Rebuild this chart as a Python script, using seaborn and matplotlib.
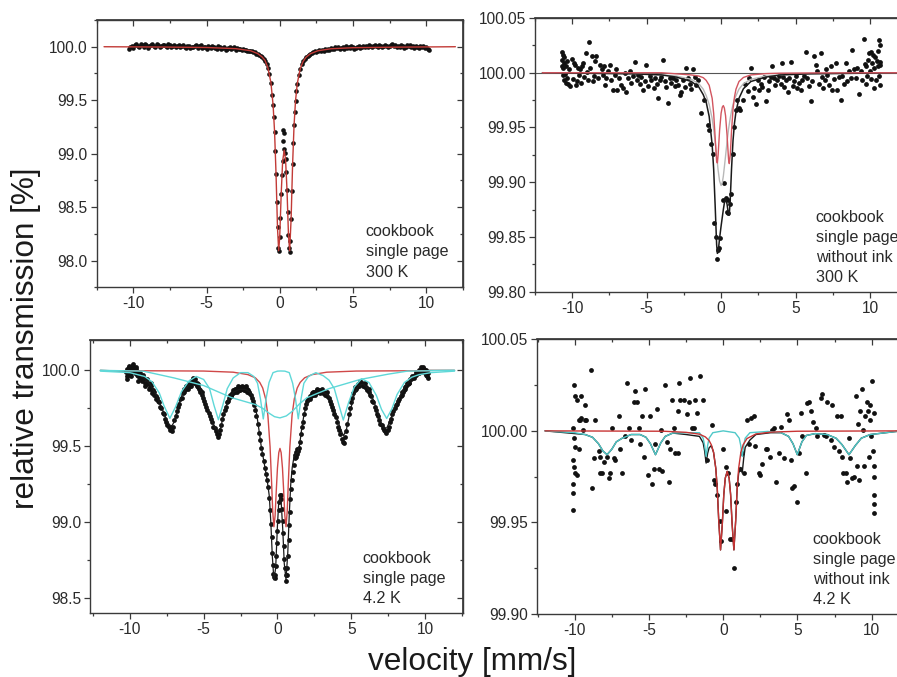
import matplotlib
matplotlib.use('Agg')
import matplotlib.pyplot as plt
from matplotlib.ticker import MultipleLocator, FormatStrFormatter
import seaborn as sns

# ---------------- panel A: cookbook single page, 300 K ----------------
a_fit_v = [-12, -8, -5, -3, -2, -1.5, -1.2, -1.0, -0.8, -0.6, -0.45, -0.35, -0.25, -0.15, -0.07,
           0.0, 0.1, 0.2, 0.305, 0.4, 0.5, 0.6, 0.68, 0.78, 0.88, 0.98, 1.08, 1.2, 1.4, 1.6,
           1.8, 2.1, 2.6, 3.5, 5, 8, 12]
a_fit_t = [100.0, 99.997, 99.993, 99.982, 99.963, 99.936, 99.904, 99.872, 99.800, 99.665, 99.453,
           99.204, 98.808, 98.305, 98.092, 98.217, 98.616, 98.926, 99.033, 98.946, 98.656, 98.237,
           98.092, 98.392, 98.895, 99.265, 99.493, 99.655, 99.794, 99.863, 99.902, 99.935, 99.962,
           99.981, 99.991, 99.996, 100.0]
a_dots = [(-10.3, 99.98), (-10.2, 100.00), (-10.1, 100.01), (-10.0, 99.99), (-9.9, 100.02), (-9.8, 100.03),
          (-9.7, 100.01), (-9.6, 100.00), (-9.5, 100.03), (-9.4, 100.02), (-9.3, 100.00), (-9.2, 100.03),
          (-9.1, 100.02), (-9.0, 99.99), (-8.9, 100.01), (-8.8, 100.02), (-8.7, 100.03), (-8.6, 100.01),
          (-8.5, 100.00), (-8.4, 100.03), (-8.3, 100.02), (-8.2, 100.00), (-8.1, 100.01), (-8.0, 100.02),
          (-7.9, 100.02), (-7.8, 100.01), (-7.7, 100.00), (-7.6, 100.03), (-7.5, 100.02), (-7.4, 100.00),
          (-7.3, 100.01), (-7.2, 100.02), (-7.1, 100.00), (-7.0, 100.01), (-6.9, 100.02), (-6.8, 100.00),
          (-6.7, 100.01), (-6.6, 100.02), (-6.5, 100.00), (-6.4, 99.99), (-6.3, 100.01), (-6.2, 100.01),
          (-6.1, 99.99), (-6.0, 100.00), (-5.9, 100.00), (-5.8, 100.01), (-5.7, 100.02), (-5.6, 99.99),
          (-5.5, 100.01), (-5.4, 100.02), (-5.3, 99.99), (-5.2, 100.00), (-5.1, 100.00), (-5.0, 99.98),
          (-4.9, 100.01), (-4.8, 100.00), (-4.7, 99.99), (-4.6, 100.01), (-4.5, 100.00), (-4.4, 99.99),
          (-4.3, 99.98), (-4.2, 100.01), (-4.1, 100.00), (-4.0, 99.98), (-3.9, 99.99), (-3.8, 100.00),
          (-3.7, 99.97), (-3.6, 99.98), (-3.5, 99.99), (-3.4, 100.00), (-3.3, 99.98), (-3.2, 99.99),
          (-3.1, 100.00), (-3.0, 99.97), (-2.9, 99.99), (-2.8, 99.98), (-2.7, 99.98), (-2.6, 99.97),
          (-2.5, 99.98), (-2.4, 99.97), (-2.3, 99.97), (-2.2, 99.96), (-2.1, 99.96), (-2.0, 99.96),
          (-1.9, 99.96), (-1.8, 99.95), (-1.7, 99.95), (-1.6, 99.93),
          (-1.5, 99.935), (-1.4, 99.925), (-1.3, 99.915), (-1.2, 99.905), (-1.1, 99.885), (-1.0, 99.87),
          (-0.9, 99.84), (-0.8, 99.80), (-0.7, 99.745), (-0.6, 99.665), (-0.5, 99.545), (-0.45, 99.455),
          (-0.4, 99.345), (-0.35, 99.205), (-0.3, 99.025), (-0.25, 98.81), (-0.2, 98.55), (-0.15, 98.31),
          (-0.1, 98.12), (-0.07, 98.09), (0.0, 98.22), (0.05, 98.40), (0.1, 98.62), (0.15, 98.80),
          (0.2, 98.93), (0.22, 99.12), (0.24, 99.22), (0.27, 99.19), (0.31, 99.04), (0.35, 99.01),
          (0.4, 98.95), (0.45, 98.83), (0.5, 98.66), (0.55, 98.45), (0.6, 98.24), (0.64, 98.12),
          (0.68, 98.08), (0.73, 98.18), (0.78, 98.39), (0.83, 98.65), (0.88, 98.90), (0.93, 99.10),
          (0.98, 99.27), (1.03, 99.39), (1.08, 99.49), (1.14, 99.585), (1.2, 99.655), (1.3, 99.74),
          (1.4, 99.795), (1.5, 99.835), (1.6, 99.865), (1.7, 99.885), (1.8, 99.90), (1.9, 99.915),
          (2.0, 99.925),
          (2.1, 99.93), (2.2, 99.94), (2.3, 99.95), (2.4, 99.96), (2.5, 99.95), (2.6, 99.96), (2.7, 99.97),
          (2.8, 99.96), (2.9, 99.97), (3.0, 99.96), (3.1, 99.98), (3.2, 99.97), (3.3, 99.98), (3.4, 99.97),
          (3.5, 99.99), (3.6, 99.98), (3.7, 99.98), (3.8, 100.00), (3.9, 99.99), (4.0, 100.00), (4.1, 99.98),
          (4.2, 99.99), (4.3, 100.00), (4.4, 99.98), (4.5, 100.01), (4.6, 99.99), (4.7, 100.00), (4.8, 99.99),
          (4.9, 100.01), (5.0, 100.00), (5.1, 99.98), (5.2, 99.99), (5.3, 100.00), (5.4, 100.01), (5.5, 99.99),
          (5.6, 100.00), (5.7, 100.01), (5.8, 100.00), (5.9, 100.01), (6.0, 100.00), (6.1, 100.02),
          (6.2, 100.01), (6.3, 100.00), (6.4, 100.01), (6.5, 100.02), (6.6, 100.01), (6.7, 100.00),
          (6.8, 100.02), (6.9, 100.01), (7.0, 100.00), (7.1, 100.01), (7.2, 100.02), (7.3, 100.01),
          (7.4, 100.00), (7.5, 100.01), (7.6, 100.02), (7.7, 100.03), (7.8, 100.01), (7.9, 100.02),
          (8.0, 100.00), (8.1, 100.01), (8.2, 100.00), (8.3, 100.02), (8.4, 100.01), (8.5, 99.99),
          (8.6, 100.00), (8.7, 100.02), (8.8, 100.01), (8.9, 100.02), (9.0, 100.00), (9.1, 100.01),
          (9.2, 99.99), (9.3, 100.01), (9.4, 100.00), (9.5, 99.99), (9.6, 100.01), (9.7, 100.00),
          (9.8, 100.01), (9.9, 99.99), (10.0, 100.00), (10.1, 99.98), (10.2, 99.97)]

# ---------------- panel B: without ink, 300 K ----------------
b_fit_v = [-12, -6, -4, -3, -2, -1.5, -1.2, -1.0, -0.8, -0.6, -0.5, -0.4, -0.3, -0.25, -0.2, -0.1,
           0.0, 0.08, 0.15, 0.22, 0.3, 0.4, 0.5, 0.55, 0.62, 0.7, 0.8, 0.9, 1.0, 1.2, 1.5, 2, 3, 4, 6, 12]
b_red_t = [100.0, 100.0, 100.0, 99.999, 99.998, 99.997, 99.9955, 99.993, 99.9885, 99.9766, 99.963,
           99.941, 99.919, 99.9176, 99.925, 99.9476, 99.963, 99.9686, 99.970, 99.9677, 99.9607,
           99.943, 99.921, 99.917, 99.926, 99.9465, 99.9667, 99.978, 99.985, 99.992, 99.9957,
           99.998, 99.9992, 99.9996, 99.9998, 100.0]
b_gray_t = [100.0, 99.9993, 99.998, 99.997, 99.994, 99.990, 99.985, 99.979, 99.971, 99.958, 99.9485,
            99.937, 99.924, 99.9176, 99.911, 99.901, 99.897, 99.8996, 99.9055, 99.914, 99.924, 99.937,
            99.9485, 99.953, 99.959, 99.965, 99.971, 99.976, 99.979, 99.985, 99.990, 99.994, 99.997,
            99.998, 99.9993, 100.0]
b_total_t = [100.0, 99.999, 99.998, 99.996, 99.992, 99.987, 99.980, 99.973, 99.960, 99.934, 99.912,
             99.879, 99.843, 99.835, 99.836, 99.849, 99.860, 99.868, 99.875, 99.881, 99.885, 99.880,
             99.870, 99.870, 99.886, 99.912, 99.938, 99.954, 99.9645, 99.9766, 99.9854, 99.992,
             99.996, 99.998, 99.999, 100.0]
b_dots = [(-10.70, 100.006), (-10.68, 100.019), (-10.66, 100.012), (-10.64, 99.998), (-10.62, 100.016),
          (-10.60, 100.004), (-10.58, 99.993), (-10.56, 100.009), (-10.52, 100.014), (-10.49, 99.999),
          (-10.45, 100.006), (-10.41, 99.991), (-10.38, 100.011), (-10.33, 99.995), (-10.27, 99.990),
          (-10.20, 100.003), (-10.12, 99.988), (-10.04, 100.013), (-9.96, 99.994), (-9.90, 100.009),
          (-9.82, 100.007), (-9.75, 99.989), (-9.70, 99.992), (-9.62, 100.004), (-9.55, 99.998),
          (-9.48, 100.003), (-9.40, 99.991), (-9.32, 100.006), (-9.26, 100.009), (-9.18, 99.996),
          (-9.08, 100.018), (-9.00, 100.001), (-8.93, 99.993), (-8.86, 100.028), (-8.78, 100.004),
          (-8.70, 100.015), (-8.60, 99.992), (-8.52, 99.997), (-8.45, 100.011), (-8.37, 100.015),
          (-8.28, 99.995), (-8.15, 100.007), (-8.03, 100.003), (-7.95, 99.998), (-7.88, 100.006),
          (-7.81, 99.989), (-7.70, 99.995), (-7.60, 100.002), (-7.48, 100.007), (-7.37, 99.993),
          (-7.26, 99.984), (-7.15, 99.998), (-7.03, 100.003), (-6.98, 99.984), (-6.85, 99.995),
          (-6.72, 99.989), (-6.59, 99.986), (-6.48, 100.000), (-6.36, 99.982), (-6.25, 99.995),
          (-6.14, 100.002), (-6.02, 99.991), (-5.90, 99.997), (-5.80, 100.010), (-5.68, 99.993),
          (-5.58, 99.998), (-5.47, 99.990), (-5.36, 99.996), (-5.25, 99.984), (-5.13, 99.992),
          (-5.02, 100.007), (-4.90, 99.988), (-4.80, 99.997), (-4.68, 99.993), (-4.53, 99.986),
          (-4.42, 99.995), (-4.32, 99.990), (-4.24, 99.977), (-4.12, 99.993), (-4.02, 99.996),
          (-3.91, 100.012), (-3.80, 99.992), (-3.68, 99.987), (-3.57, 99.972), (-3.45, 99.995),
          (-3.35, 99.991), (-3.24, 99.995), (-3.12, 99.988), (-3.00, 99.993), (-2.90, 99.989),
          (-2.79, 99.980), (-2.68, 99.982), (-2.56, 99.993), (-2.45, 99.987), (-2.34, 100.004),
          (-2.22, 99.995), (-2.10, 99.990), (-2.00, 99.985), (-1.90, 100.003), (-1.78, 99.996),
          (-1.67, 99.989), (-1.55, 99.993),
          (-1.34, 99.963), (-1.15, 99.975), (-0.90, 99.952), (-0.83, 99.948), (-0.70, 99.935),
          (-0.56, 99.926), (-0.45, 99.863), (-0.35, 99.850), (-0.27, 99.830), (-0.22, 99.838),
          (-0.16, 99.840), (-0.05, 99.849), (0.11, 99.884), (0.22, 99.899), (0.30, 99.886),
          (0.38, 99.873), (0.45, 99.872), (0.49, 99.884), (0.58, 99.880), (0.67, 99.889),
          (0.78, 99.926), (0.89, 99.950), (1.00, 99.966), (1.10, 99.975), (1.20, 99.968),
          (1.30, 99.966), (1.45, 99.975),
          (1.60, 99.990), (1.78, 99.983), (1.85, 99.995), (2.00, 100.004), (2.12, 99.978),
          (2.23, 99.986), (2.34, 99.971), (2.45, 99.993), (2.56, 99.984), (2.67, 99.990),
          (2.78, 99.987), (2.90, 99.996), (3.01, 99.974), (3.12, 99.984), (3.24, 99.992),
          (3.35, 99.996), (3.45, 100.006), (3.54, 99.995), (3.63, 99.989), (3.75, 99.993),
          (3.90, 99.997), (4.00, 99.990), (4.08, 100.009), (4.16, 99.996), (4.24, 99.987),
          (4.35, 99.993), (4.46, 99.982), (4.58, 99.995), (4.69, 100.010), (4.80, 99.988),
          (4.91, 99.992), (5.02, 99.997), (5.13, 99.986), (5.24, 99.991), (5.35, 99.984),
          (5.46, 99.993), (5.58, 99.997), (5.69, 100.019), (5.80, 99.995), (5.91, 99.988),
          (6.02, 99.974), (6.13, 99.992), (6.25, 100.015), (6.36, 100.007), (6.47, 100.002),
          (6.58, 99.990), (6.69, 100.018), (6.77, 99.996), (6.85, 99.986), (6.95, 99.993),
          (7.05, 100.003), (7.14, 99.998), (7.25, 99.989), (7.36, 100.006), (7.47, 99.984),
          (7.58, 99.994), (7.70, 100.009), (7.80, 99.984), (7.92, 99.996), (8.03, 99.975),
          (8.14, 99.997), (8.25, 99.990), (8.37, 100.009), (8.47, 99.992), (8.58, 100.002),
          (8.70, 99.995), (8.81, 100.021), (8.92, 100.003), (9.04, 99.995), (9.15, 100.004),
          (9.26, 99.981), (9.37, 100.002), (9.48, 99.993), (9.59, 100.031), (9.65, 100.008),
          (9.71, 100.006), (9.76, 99.990), (9.81, 99.997), (9.87, 100.012), (9.93, 100.018),
          (9.98, 100.002), (10.04, 100.019), (10.08, 99.994), (10.15, 100.009), (10.20, 100.016),
          (10.26, 99.986), (10.30, 100.004), (10.37, 100.014), (10.42, 99.993), (10.48, 100.011),
          (10.52, 100.006), (10.56, 100.020), (10.60, 100.030), (10.62, 99.997), (10.64, 100.025),
          (10.66, 100.010), (10.68, 99.989), (10.70, 100.007)]

# ---------------- panel C: cookbook single page, 4.2 K ----------------
c_total_v = [-12, -10.25, -9.8, -9.3, -9.0, -8.6, -8.2, -7.8, -7.5, -7.3, -7.15, -7.0, -6.8, -6.5,
             -6.2, -5.9, -5.6, -5.3, -5.0, -4.7, -4.4, -4.15, -4.0, -3.85, -3.6, -3.3, -3.0, -2.6,
             -2.2, -1.9, -1.7, -1.5, -1.3, -1.1, -0.9, -0.7, -0.55, -0.45, -0.35, -0.24, -0.12, 0.0,
             0.08, 0.17, 0.26, 0.36, 0.46, 0.58, 0.7, 0.8, 0.9, 1.0, 1.12, 1.25, 1.38, 1.5, 1.65,
             1.8, 2.0, 2.3, 2.7, 3.1, 3.4, 3.7, 4.0, 4.25, 4.46, 4.65, 4.9, 5.2, 5.5, 5.8, 6.1, 6.4,
             6.7, 7.0, 7.2, 7.4, 7.6, 7.9, 8.2, 8.6, 9.0, 9.5, 10.25, 12]
c_total_t = [100.0, 99.995, 99.985, 99.965, 99.945, 99.905, 99.835, 99.745, 99.67, 99.64, 99.635,
             99.66, 99.73, 99.83, 99.88, 99.915, 99.92, 99.895, 99.82, 99.74, 99.66, 99.61, 99.60,
             99.62, 99.73, 99.81, 99.855, 99.875, 99.875, 99.86, 99.83, 99.77, 99.64, 99.50, 99.39,
             99.28, 99.17, 99.00, 98.78, 98.62, 98.70, 98.98, 99.12, 99.17, 99.12, 98.95, 98.73,
             98.62, 98.80, 99.05, 99.25, 99.36, 99.43, 99.45, 99.46, 99.51, 99.62, 99.71, 99.78,
             99.83, 99.855, 99.855, 99.84, 99.79, 99.70, 99.62, 99.57, 99.60, 99.72, 99.84, 99.90,
             99.91, 99.885, 99.83, 99.75, 99.66, 99.62, 99.62, 99.66, 99.74, 99.81, 99.885, 99.935,
             99.975, 100.0, 100.0]
c_red_v = [-10.3, -5, -3, -2, -1.5, -1.2, -1.0, -0.8, -0.65, -0.5, -0.4, -0.32, -0.24, -0.16, -0.08,
           0.0, 0.09, 0.17, 0.25, 0.34, 0.42, 0.5, 0.58, 0.66, 0.74, 0.84, 0.99, 1.14, 1.34, 1.54,
           1.84, 2.34, 3.34, 5.34, 10.3]
c_red_t = [99.998, 99.9955, 99.988, 99.972, 99.951, 99.921, 99.884, 99.812, 99.705, 99.496, 99.269,
           99.071, 98.970, 99.042, 99.208, 99.357, 99.458, 99.486, 99.458, 99.357, 99.208, 99.042,
           98.970, 99.071, 99.269, 99.496, 99.705, 99.812, 99.884, 99.921, 99.951, 99.972, 99.988,
           99.9955, 99.998]
c_sext_v = [-12, -10, -9, -8.5, -8, -7.7, -7.29, -6.9, -6.5, -6.0, -5.5, -5.0, -4.6, -4.3, -4.0, -3.7,
            -3.4, -3.0, -2.5, -2.0, -1.6, -1.35, -1.15, -0.96, -0.77, -0.57, -0.3, 0.0, 0.22, 0.5, 0.8,
            1.03, 1.22, 1.41, 1.6, 1.79, 2.1, 2.6, 3.1, 3.5, 3.85, 4.15, 4.46, 4.8, 5.2, 5.7, 6.2, 6.7,
            7.05, 7.4, 7.75, 8.1, 8.6, 9.1, 9.6, 10.4, 12]
c_sext_t = [99.995, 99.985, 99.96, 99.925, 99.85, 99.77, 99.684, 99.76, 99.86, 99.93, 99.96, 99.94,
            99.88, 99.77, 99.675, 99.772, 99.88, 99.95, 99.985, 99.985, 99.96, 99.915, 99.811, 99.680,
            99.813, 99.92, 99.985, 99.995, 99.996, 99.995, 99.985, 99.915, 99.813, 99.681, 99.813,
            99.915, 99.96, 99.985, 99.965, 99.935, 99.88, 99.776, 99.673, 99.782, 99.89, 99.945,
            99.92, 99.835, 99.743, 99.683, 99.746, 99.84, 99.92, 99.955, 99.972, 99.985, 99.995]
c_broad_v = [-12, -9.1, -7, -5, -3.1, -1.5, -1.0, -0.6, -0.2, 0.17, 0.6, 1.0, 1.5, 2.0, 3.5, 5.6, 7.5,
             8.8, 12]
c_broad_t = [100.0, 99.995, 99.95, 99.90, 99.82, 99.775, 99.75, 99.72, 99.695, 99.687, 99.70, 99.73,
             99.78, 99.82, 99.88, 99.94, 99.975, 99.995, 100.0]
c_dots = [(-10.25, 99.99), (-10.22, 99.96), (-10.18, 100.01), (-10.12, 99.97), (-10.08, 100.02),
          (-10.02, 99.98), (-9.96, 100.01), (-9.9, 99.99), (-9.84, 100.03), (-9.78, 100.0),
          (-9.72, 100.02), (-9.66, 99.98), (-9.6, 100.01), (-9.54, 99.97), (-9.48, 99.99),
          (-9.42, 99.96), (-9.36, 99.98), (-9.3, 99.95), (-9.22, 99.96), (-9.14, 99.94), (-9.06, 99.95),
          (-8.98, 99.92), (-8.9, 99.94), (-8.82, 99.91), (-8.74, 99.92), (-8.66, 99.89), (-8.58, 99.90),
          (-8.5, 99.87), (-8.42, 99.87), (-8.34, 99.84), (-8.26, 99.83), (-8.18, 99.82), (-8.1, 99.80),
          (-8.02, 99.79), (-7.94, 99.76), (-7.86, 99.75), (-7.78, 99.72), (-7.7, 99.71), (-7.62, 99.68),
          (-7.54, 99.66), (-7.46, 99.64), (-7.38, 99.63), (-7.3, 99.61), (-7.22, 99.62), (-7.14, 99.60),
          (-7.06, 99.63), (-6.98, 99.67), (-6.9, 99.70), (-6.82, 99.73), (-6.74, 99.76), (-6.66, 99.78),
          (-6.58, 99.81), (-6.5, 99.82), (-6.42, 99.85), (-6.34, 99.86), (-6.26, 99.88), (-6.18, 99.88),
          (-6.1, 99.90), (-6.02, 99.91), (-5.94, 99.90), (-5.86, 99.93), (-5.78, 99.92), (-5.7, 99.94),
          (-5.62, 99.92), (-5.54, 99.91), (-5.46, 99.92), (-5.38, 99.89), (-5.3, 99.88), (-5.22, 99.86),
          (-5.14, 99.84), (-5.06, 99.82), (-4.98, 99.80), (-4.9, 99.78), (-4.82, 99.76), (-4.74, 99.74),
          (-4.66, 99.72), (-4.58, 99.70), (-4.5, 99.68), (-4.42, 99.66), (-4.34, 99.63), (-4.26, 99.62),
          (-4.18, 99.60), (-4.1, 99.58), (-4.02, 99.56), (-3.94, 99.58), (-3.86, 99.61), (-3.8, 99.64),
          (-3.74, 99.68), (-3.66, 99.71), (-3.58, 99.74), (-3.5, 99.76), (-3.42, 99.79), (-3.34, 99.80),
          (-3.26, 99.82), (-3.18, 99.83), (-3.1, 99.85), (-3.02, 99.85), (-2.94, 99.87), (-2.86, 99.86),
          (-2.78, 99.88), (-2.7, 99.88), (-2.62, 99.87), (-2.54, 99.89), (-2.46, 99.88), (-2.38, 99.88),
          (-2.3, 99.89), (-2.22, 99.87), (-2.14, 99.88), (-2.06, 99.86), (-1.98, 99.87), (-1.9, 99.86),
          (-1.82, 99.84), (-1.74, 99.82), (-1.66, 99.80), (-1.58, 99.77), (-1.5, 99.74), (-1.42, 99.70),
          (-1.34, 99.65), (-1.26, 99.59), (-1.18, 99.54), (-1.1, 99.49), (-1.02, 99.45), (-0.94, 99.40),
          (-0.86, 99.36), (-0.78, 99.32), (-0.7, 99.28), (-0.63, 99.23), (-0.56, 99.16), (-0.5, 99.08),
          (-0.45, 98.99), (-0.4, 98.90), (-0.36, 98.80), (-0.32, 98.72), (-0.28, 98.66), (-0.24, 98.64),
          (-0.2, 98.63), (-0.16, 98.65), (-0.12, 98.71), (-0.08, 98.78), (-0.04, 98.86), (0.0, 98.94),
          (0.04, 99.01), (0.08, 99.08), (0.12, 99.13), (0.17, 99.18), (0.22, 99.18), (0.27, 99.15),
          (0.31, 99.09), (0.35, 99.01), (0.39, 98.93), (0.43, 98.84), (0.47, 98.76), (0.51, 98.70),
          (0.55, 98.65), (0.59, 98.61), (0.63, 98.65), (0.67, 98.70), (0.71, 98.78), (0.75, 98.88),
          (0.79, 98.98), (0.83, 99.07), (0.87, 99.15), (0.92, 99.22), (0.98, 99.28), (1.04, 99.33),
          (1.1, 99.38), (1.16, 99.42), (1.22, 99.44), (1.28, 99.43), (1.34, 99.45), (1.4, 99.47),
          (1.46, 99.49), (1.52, 99.53), (1.58, 99.58), (1.64, 99.63), (1.7, 99.66), (1.78, 99.71),
          (1.86, 99.75), (1.94, 99.78), (2.02, 99.80), (2.1, 99.81), (2.18, 99.83), (2.26, 99.83),
          (2.34, 99.85), (2.42, 99.84), (2.5, 99.86), (2.58, 99.85), (2.66, 99.87), (2.74, 99.86),
          (2.82, 99.87), (2.9, 99.86), (2.98, 99.87), (3.06, 99.85), (3.14, 99.86), (3.22, 99.84),
          (3.3, 99.85), (3.38, 99.83), (3.46, 99.82), (3.54, 99.80), (3.62, 99.78), (3.7, 99.76),
          (3.78, 99.74), (3.86, 99.71), (3.94, 99.69), (4.02, 99.66), (4.1, 99.63), (4.18, 99.61),
          (4.26, 99.58), (4.34, 99.55), (4.42, 99.53), (4.5, 99.52), (4.58, 99.56), (4.66, 99.60),
          (4.74, 99.65), (4.82, 99.71), (4.9, 99.75), (4.98, 99.79), (5.06, 99.82), (5.14, 99.85),
          (5.22, 99.87), (5.3, 99.88), (5.38, 99.90), (5.46, 99.91), (5.54, 99.90), (5.62, 99.92),
          (5.7, 99.91), (5.78, 99.90), (5.86, 99.91), (5.94, 99.89), (6.02, 99.89), (6.1, 99.87),
          (6.18, 99.86), (6.26, 99.84), (6.34, 99.83), (6.42, 99.80), (6.5, 99.79), (6.58, 99.76),
          (6.66, 99.74), (6.74, 99.71), (6.82, 99.70), (6.9, 99.67), (6.98, 99.65), (7.06, 99.64),
          (7.14, 99.62), (7.22, 99.61), (7.3, 99.60), (7.38, 99.59), (7.46, 99.61), (7.54, 99.63),
          (7.62, 99.66), (7.7, 99.68), (7.78, 99.71), (7.86, 99.73), (7.94, 99.75), (8.02, 99.77),
          (8.1, 99.78), (8.18, 99.80), (8.26, 99.81), (8.34, 99.83), (8.42, 99.84), (8.5, 99.86),
          (8.58, 99.87), (8.66, 99.89), (8.74, 99.90), (8.82, 99.91), (8.9, 99.92), (8.98, 99.94),
          (9.06, 99.94), (9.14, 99.95), (9.22, 99.96), (9.3, 99.97), (9.38, 99.97), (9.46, 99.98),
          (9.54, 99.99), (9.62, 100.0), (9.7, 99.99), (9.78, 100.01), (9.86, 100.02), (9.94, 100.0),
          (10.02, 99.98), (10.08, 99.97), (10.14, 99.96), (10.2, 99.98),
          # second sweep, scattered around the humps
          (-10.16, 99.94), (-10.04, 100.03), (-9.92, 99.96), (-9.8, 100.04), (-9.68, 100.00),
          (-9.56, 100.02), (-9.44, 99.93), (-9.32, 99.98), (-9.2, 99.93), (-9.08, 99.97),
          (-8.96, 99.90), (-8.84, 99.94), (-8.72, 99.88), (-8.6, 99.92), (-8.48, 99.85),
          (-8.36, 99.86), (-8.24, 99.81), (-6.32, 99.88), (-6.2, 99.90), (-6.08, 99.88),
          (-5.96, 99.92), (-5.84, 99.90), (-5.72, 99.95), (-5.6, 99.94), (-5.48, 99.90),
          (-5.36, 99.91), (-5.24, 99.87), (-5.12, 99.86), (-3.24, 99.84), (-3.12, 99.83),
          (-3.0, 99.87), (-2.88, 99.88), (-2.76, 99.86), (-2.64, 99.90), (-2.52, 99.87),
          (-2.4, 99.90), (-2.28, 99.87), (-2.16, 99.90), (-2.04, 99.88), (-1.92, 99.85),
          (1.32, 99.48), (1.26, 99.46), (2.22, 99.81), (2.38, 99.86), (2.54, 99.84), (2.7, 99.88),
          (2.86, 99.85), (3.02, 99.88), (3.18, 99.85), (3.34, 99.86), (5.26, 99.89), (5.42, 99.89),
          (5.58, 99.93), (5.74, 99.92), (5.9, 99.92), (6.06, 99.88), (6.22, 99.88), (8.46, 99.86),
          (8.62, 99.88), (8.78, 99.92), (8.94, 99.92), (9.1, 99.96), (9.26, 99.95), (9.42, 99.99),
          (9.58, 99.98), (9.74, 100.02), (9.9, 100.01), (10.06, 100.0), (10.18, 99.95)]

# ---------------- panel D: without ink, 4.2 K ----------------
d_red_v = [-12, -4, -2.5, -1.6, -1.2, -0.95, -0.8, -0.65, -0.5, -0.4, -0.3, -0.18, -0.06, 0.04, 0.14,
           0.27, 0.4, 0.5, 0.6, 0.72, 0.84, 0.94, 1.04, 1.19, 1.34, 1.6, 2.2, 3.2, 5, 12]
d_red_t = [100.0, 99.9998, 99.9992, 99.9982, 99.9967, 99.9947, 99.9924, 99.9883, 99.9796, 99.9685,
           99.9509, 99.935, 99.9492, 99.9652, 99.9742, 99.9779, 99.9742, 99.9652, 99.9492, 99.935,
           99.9509, 99.9685, 99.9796, 99.9883, 99.9924, 99.9958, 99.9983, 99.9993, 99.9998, 100.0]
d_sext_v = [-12, -10, -9.3, -8.8, -8.4, -8.1, -7.82, -7.5, -7.2, -6.8, -6.2, -5.6, -5.2, -4.9, -4.56,
            -4.2, -3.9, -3.4, -2.5, -1.6, -1.35, -1.25, -1.15, -1.05, -0.95, -0.7, 0.0, 0.8, 1.08,
            1.18, 1.28, 1.38, 1.48, 1.8, 3.0, 3.9, 4.4, 4.7, 4.99, 5.3, 5.6, 6.2, 7.0, 7.6, 8.0,
            8.47, 8.9, 9.3, 9.9, 12]
d_sext_t = [100.0, 99.999, 99.998, 99.9965, 99.993, 99.989, 99.987, 99.990, 99.994, 99.996, 99.998,
            99.998, 99.9965, 99.993, 99.987, 99.9935, 99.997, 99.9988, 99.999, 99.999, 99.996,
            99.992, 99.986, 99.992, 99.996, 99.999, 100.0, 99.999, 99.996, 99.992, 99.986, 99.992,
            99.996, 99.999, 99.9997, 99.999, 99.997, 99.993, 99.987, 99.994, 99.9975, 99.9985,
            99.998, 99.996, 99.9925, 99.987, 99.992, 99.996, 99.998, 100.0]
d_total_v = [-12, -9.3, -8.8, -8.4, -8.1, -7.82, -7.5, -7.2, -6.8, -6.2, -5.6, -5.2, -4.9, -4.56, -4.2,
             -3.9, -3.4, -2.5, -1.6, -1.35, -1.25, -1.15, -1.05, -0.95, -0.8, -0.65, -0.5, -0.4, -0.3,
             -0.18, -0.06, 0.04, 0.14, 0.27, 0.4, 0.5, 0.6, 0.72, 0.84, 0.94, 1.04, 1.18, 1.28, 1.38,
             1.48, 1.8, 2.2, 3.2, 3.9, 4.4, 4.7, 4.99, 5.3, 5.6, 6.2, 7.0, 7.6, 8.0, 8.47, 8.9, 9.3,
             9.9, 12]
d_total_t = [100.0, 99.998, 99.9965, 99.993, 99.989, 99.987, 99.990, 99.994, 99.996, 99.998, 99.998,
             99.9965, 99.993, 99.987, 99.9935, 99.997, 99.9988, 99.998, 99.997, 99.9935, 99.989,
             99.9824, 99.9877, 99.9907, 99.992, 99.9883, 99.9796, 99.9685, 99.9509, 99.935, 99.9492,
             99.9652, 99.9742, 99.9779, 99.9742, 99.9652, 99.9492, 99.935, 99.9509, 99.9685,
             99.9768, 99.980, 99.977, 99.985, 99.991, 99.995, 99.998, 99.999, 99.999, 99.997,
             99.993, 99.987, 99.994, 99.9975, 99.9985, 99.998, 99.996, 99.9925, 99.987, 99.992,
             99.996, 99.998, 100.0]
d_dots = [(-10.07, 100.025), (-9.96, 100.019), (-9.85, 100.017), (-10.10, 100.0015), (-10.07, 99.996),
          (-9.96, 99.991), (-10.10, 99.984), (-10.07, 99.980), (-9.96, 99.977), (-10.10, 99.971),
          (-10.14, 99.966), (-10.14, 99.957), (-9.85, 99.976), (-9.73, 100.006), (-9.68, 99.990),
          (-9.62, 100.006), (-9.57, 100.019), (-9.34, 100.014), (-9.57, 100.007), (-9.46, 100.0005),
          (-9.34, 100.006), (-9.23, 100.006), (-8.83, 99.969), (-8.90, 100.033), (-8.72, 99.985),
          (-8.61, 100.006), (-8.39, 99.989), (-8.27, 99.986), (-8.05, 99.983), (-8.32, 99.977),
          (-8.16, 99.977), (-7.82, 99.986), (-7.71, 99.974), (-7.60, 99.977), (-7.48, 100.0015),
          (-7.37, 99.985), (-7.26, 99.984), (-7.04, 100.008), (-6.81, 99.977), (-6.93, 99.990),
          (-6.59, 99.997), (-6.47, 100.026), (-6.36, 100.0015), (-6.20, 99.995), (-6.03, 100.016),
          (-5.91, 100.022), (-5.80, 100.016), (-5.69, 100.0015), (-5.58, 99.993), (-5.46, 100.008),
          (-5.35, 99.986), (-5.24, 100.023), (-5.08, 99.976), (-4.90, 100.008), (-4.79, 99.971),
          (-4.68, 99.979), (-4.56, 99.993), (-4.45, 100.012), (-4.34, 99.979), (-4.11, 99.978),
          (-4.22, 100.0005), (-3.89, 100.025), (-3.78, 99.994), (-3.67, 99.972), (-3.55, 99.990),
          (-3.44, 100.017), (-3.33, 100.0015), (-3.22, 99.988), (-3.06, 99.988), (-3.02, 100.011),
          (-2.99, 100.026), (-2.88, 100.017), (-2.66, 100.017), (-2.43, 100.009), (-2.32, 100.016),
          (-2.25, 100.029), (-2.09, 100.0015), (-1.98, 100.0015), (-1.87, 100.017), (-1.76, 100.010),
          (-1.53, 100.030), (-1.35, 100.017),
          (-0.74, 100.003), (-1.08, 99.984), (-0.63, 99.973), (-0.52, 99.971), (-0.40, 99.965),
          (-0.22, 99.951), (-0.13, 99.940), (0.00, 99.990), (0.16, 99.980), (0.22, 99.956),
          (0.31, 99.977), (0.49, 99.941), (0.60, 99.941), (0.71, 99.925), (0.83, 99.961),
          (0.94, 99.971), (1.12, 99.979), (1.28, 99.988), (1.39, 99.977), (1.62, 100.006),
          (1.84, 100.007), (2.06, 100.008), (1.73, 99.993), (2.17, 99.992), (2.40, 99.977),
          (2.51, 99.976), (2.63, 99.982), (2.85, 99.990), (2.96, 99.990), (3.14, 99.986),
          (3.30, 100.0005), (3.42, 100.0015), (3.53, 99.972), (3.75, 99.988), (3.86, 100.002),
          (4.09, 99.985), (4.32, 100.009), (4.43, 100.006), (4.54, 99.984), (4.65, 99.969),
          (4.76, 99.970), (4.99, 99.961), (5.10, 99.988), (5.21, 100.010), (5.33, 99.997),
          (5.55, 99.977), (5.66, 100.015), (5.78, 100.016), (5.93, 100.011), (6.07, 100.005),
          (6.22, 100.0015), (6.33, 99.997), (6.56, 100.018), (6.67, 100.020), (6.78, 99.998),
          (6.89, 99.997), (7.00, 100.016), (7.23, 99.995), (7.34, 100.014), (7.45, 99.991),
          (7.67, 100.008), (7.79, 99.989), (7.90, 100.008), (8.00, 99.986), (8.08, 99.977),
          (8.24, 99.977), (8.35, 99.972), (8.47, 99.996), (8.57, 99.985), (8.69, 99.974),
          (8.80, 99.975), (8.91, 100.019), (9.02, 99.981), (9.06, 100.004), (9.13, 99.973),
          (9.24, 100.011), (9.35, 100.023), (9.42, 100.0005), (9.46, 99.981), (9.57, 100.008),
          (9.68, 100.016), (9.73, 100.011), (9.80, 99.986), (9.87, 100.006), (9.91, 100.014),
          (9.96, 99.997), (10.02, 100.027), (10.09, 99.989), (10.13, 99.981), (10.13, 99.975),
          (10.18, 99.965), (10.18, 99.960), (10.18, 99.955), (10.13, 100.010)]

a_label = ['cookbook', 'single page', '300 K']
b_label = ['cookbook', 'single page', 'without ink', '300 K']
c_label = ['cookbook', 'single page', '4.2 K']
d_label = ['cookbook', 'single page', 'without ink', '4.2 K']

sns.set_theme(style='ticks')
plt.rcParams['font.family'] = ['Liberation Sans', 'DejaVu Sans']
plt.rcParams['axes.unicode_minus'] = False

W, H = 897, 677
fig = plt.figure(figsize=(W / 100, H / 100), dpi=100)
FRAME = '#3a3a3a'


def add_panel(left, top, right, bottom):
    return fig.add_axes([left / W, 1 - bottom / H, (right - left) / W, (bottom - top) / H])


def style(ax, xlim, ylim, ymaj, ymin, yfmt):
    ax.set_xlim(*xlim)
    ax.set_ylim(*ylim)
    for sp in ax.spines.values():
        sp.set_color(FRAME)
        sp.set_linewidth(1.0)
    ax.xaxis.set_major_locator(MultipleLocator(5))
    ax.xaxis.set_minor_locator(MultipleLocator(2.5))
    ax.yaxis.set_major_locator(MultipleLocator(ymaj))
    ax.yaxis.set_minor_locator(MultipleLocator(ymin))
    ax.yaxis.set_major_formatter(FormatStrFormatter(yfmt))
    ax.tick_params(which='both', direction='out', color=FRAME, width=0.9,
                   labelsize=11.2, labelcolor='#2a2a2a', pad=2.5)
    ax.tick_params(which='major', length=4)
    ax.tick_params(which='minor', length=2.5)
    ax.set_xlabel('')
    ax.set_ylabel('')
    top = ax.secondary_xaxis('top')
    top.xaxis.set_major_locator(MultipleLocator(5))
    top.xaxis.set_minor_locator(MultipleLocator(2.5))
    top.tick_params(which='both', direction='in', color=FRAME, width=0.9,
                    labeltop=False, labelbottom=False)
    top.tick_params(which='major', length=4)
    top.tick_params(which='minor', length=2.5)
    top.spines['top'].set_color(FRAME)
    rgt = ax.secondary_yaxis('right')
    rgt.yaxis.set_major_locator(MultipleLocator(ymaj))
    rgt.yaxis.set_minor_locator(MultipleLocator(ymin))
    rgt.tick_params(which='both', direction='in', color=FRAME, width=0.9,
                    labelright=False, labelleft=False)
    rgt.tick_params(which='major', length=4)
    rgt.tick_params(which='minor', length=2.5)
    rgt.spines['right'].set_color(FRAME)


def line(ax, v, t, color, lw, z):
    sns.lineplot(x=v, y=t, ax=ax, color=color, linewidth=lw, sort=False,
                 estimator=None, legend=False, zorder=z)


def dots(ax, pts, size):
    sns.scatterplot(x=[p[0] for p in pts], y=[p[1] for p in pts], ax=ax, s=size,
                    color='#111111', linewidth=0, legend=False, zorder=2)


def note(ax, lines, x, y0, step):
    for i, s in enumerate(lines):
        ax.text(x, y0 - i * step, s, transform=ax.transAxes, fontsize=11.6,
                color='#2a2a2a', ha='left', va='baseline')


# panel A
axA = add_panel(96.7, 20, 462.7, 287.3)
dots(axA, a_dots, 11)
line(axA, a_fit_v, a_fit_t, '#c23a36', 1.0, 3)
style(axA, (-12.5, 12.5), (97.75, 100.25), 0.5, 0.25, '%.1f')
note(axA, a_label, 0.735, 0.192, 0.0767)

# panel B
axB = add_panel(535, 18, 907.2, 291.7)
axB.axhline(100.0, color='#555555', lw=0.8, zorder=1)
dots(axB, b_dots, 12)
line(axB, b_fit_v, b_gray_t, '#b8b8b8', 1.0, 3)
line(axB, b_fit_v, b_total_t, '#1a1a1a', 1.1, 4)
line(axB, b_fit_v, b_red_t, '#d2555f', 1.0, 5)
style(axB, (-12.5, 12.5), (99.80, 100.05), 0.05, 0.025, '%.2f')
note(axB, b_label, 0.754, 0.256, 0.0731)

# panel C
axC = add_panel(90, 340, 462.7, 613.3)
dots(axC, c_dots, 12)
line(axC, c_total_v, c_total_t, '#1a1a1a', 0.9, 3)
line(axC, c_red_v, c_red_t, '#d04848', 1.0, 4)
line(axC, c_broad_v, c_broad_t, '#5fd8d8', 1.0, 5)
line(axC, c_sext_v, c_sext_t, '#5fd8d8', 1.0, 5)
style(axC, (-12.7, 12.55), (98.4, 100.2), 0.5, 0.25, '%.1f')
note(axC, c_label, 0.7317, 0.183, 0.072)

# panel D
axD = add_panel(536.7, 339.3, 909.7, 614)
dots(axD, d_dots, 12)
line(axD, d_total_v, d_total_t, '#1a1a1a', 1.0, 3)
line(axD, d_sext_v, d_sext_t, '#4fc8c8', 1.0, 4)
line(axD, d_red_v, d_red_t, '#c83434', 1.0, 5)
style(axD, (-12.56, 12.56), (99.90, 100.05), 0.05, 0.025, '%.2f')
note(axD, d_label, 0.74, 0.2537, 0.0728)

fig.text(0.029, 0.5, 'relative transmission [%]', rotation=90, ha='center', va='center',
         fontsize=22.7, color='#1a1a1a')
fig.text(0.5268, 0.022, 'velocity [mm/s]', ha='center', va='center',
         fontsize=22.7, color='#1a1a1a')

fig.savefig('out.png', dpi=100)
